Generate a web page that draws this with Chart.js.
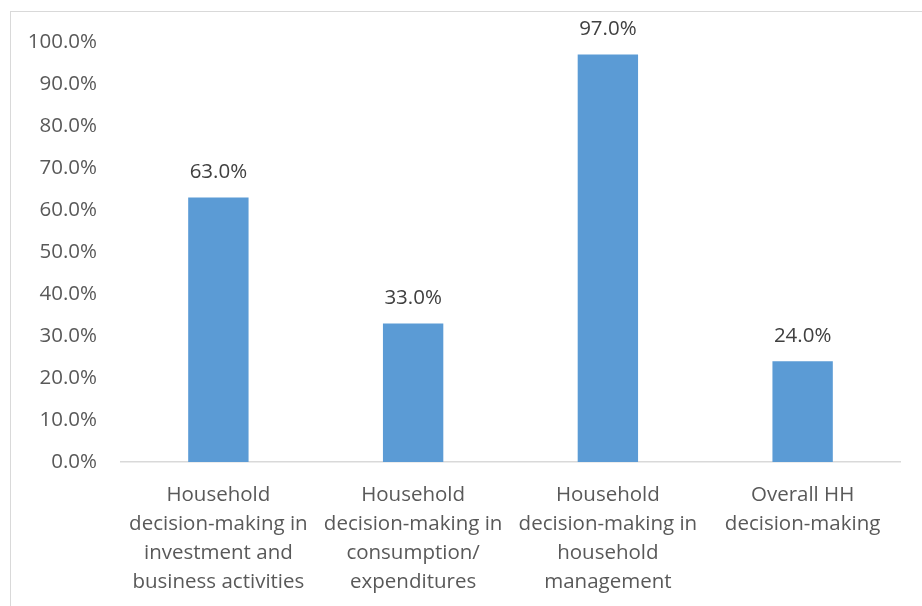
<!DOCTYPE html>
<html>
<head>
<meta charset="utf-8">
<script src="https://cdn.jsdelivr.net/npm/chart.js@4"></script>
<style>
  html, body { margin: 0; padding: 0; background: #fff; overflow: hidden; }
  #box {
    position: absolute; left: 10px; top: 11px;
    width: 930px; height: 620px;
    border: 1px solid #d9d9d9; box-sizing: border-box;
  }
  #wrap { position: absolute; left: 0; top: 0; width: 911px; height: 594px; }
</style>
</head>
<body>
<div id="box"><div id="wrap"><canvas id="bar-chart-decisions"></canvas></div></div>
<script>
// categories (wrapped onto several lines) and shares in percent
var categories = [
    ["Household", "decision-making in", "investment and", "business activities"],
    ["Household", "decision-making in", "consumption/", "expenditures"],
    ["Household", "decision-making in", "household", "management"],
    ["Overall HH", "decision-making"]
];
var shares = [63.0, 33.0, 97.0, 24.0];
var yTicks = [0, 10, 20, 30, 40, 50, 60, 70, 80, 90, 100];

var fontFamily = "'Open Sans', sans-serif";
var fontSize = 20.5;

// writes the value above each bar
var barValues = {
    id: 'barValues',
    afterDatasetsDraw: function (chart) {
        var ctx = chart.ctx;
        var meta = chart.getDatasetMeta(0);
        ctx.save();
        ctx.fillStyle = '#404040';
        ctx.font = fontSize + "px " + fontFamily;
        ctx.textAlign = 'center';
        ctx.textBaseline = 'middle';
        meta.data.forEach(function (bar, i) {
            ctx.fillText(shares[i].toFixed(1) + '%', bar.x, bar.y - 25);
        });
        ctx.restore();
    }
};

new Chart(document.getElementById("bar-chart-decisions"), {
    type: 'bar',
    data: {
        labels: categories,
        datasets: [
            {
                label: "Share",
                backgroundColor: "#5B9BD5",
                data: shares,
                categoryPercentage: 1.0,
                barPercentage: 0.31
            }
        ]
    },
    plugins: [barValues],
    options: {
        responsive: true,
        maintainAspectRatio: false,
        animation: false,
        layout: { padding: { top: 30, right: 22, left: 0, bottom: 0 } },
        plugins: {
            legend: { display: false },
            tooltip: { enabled: false }
        },
        scales: {
            x: {
                grid: { display: false },
                border: { color: '#d9d9d9', width: 1.5 },
                ticks: {
                    color: '#595959',
                    font: { family: fontFamily, size: fontSize, lineHeight: 29 / fontSize },
                    maxRotation: 0,
                    autoSkip: false,
                    padding: 11
                },
                afterFit: function (s) { s.height = 144; }
            },
            y: {
                min: 0,
                max: 100,
                afterBuildTicks: function (s) {
                    s.ticks = yTicks.map(function (v) { return { value: v }; });
                },
                grid: { display: false },
                border: { display: false },
                ticks: {
                    color: '#595959',
                    font: { family: fontFamily, size: fontSize },
                    padding: 16,
                    callback: function (v) { return v.toFixed(1) + '%'; }
                },
                afterFit: function (s) { s.width = 110; }
            }
        }
    }
});
</script>
</body>
</html>
